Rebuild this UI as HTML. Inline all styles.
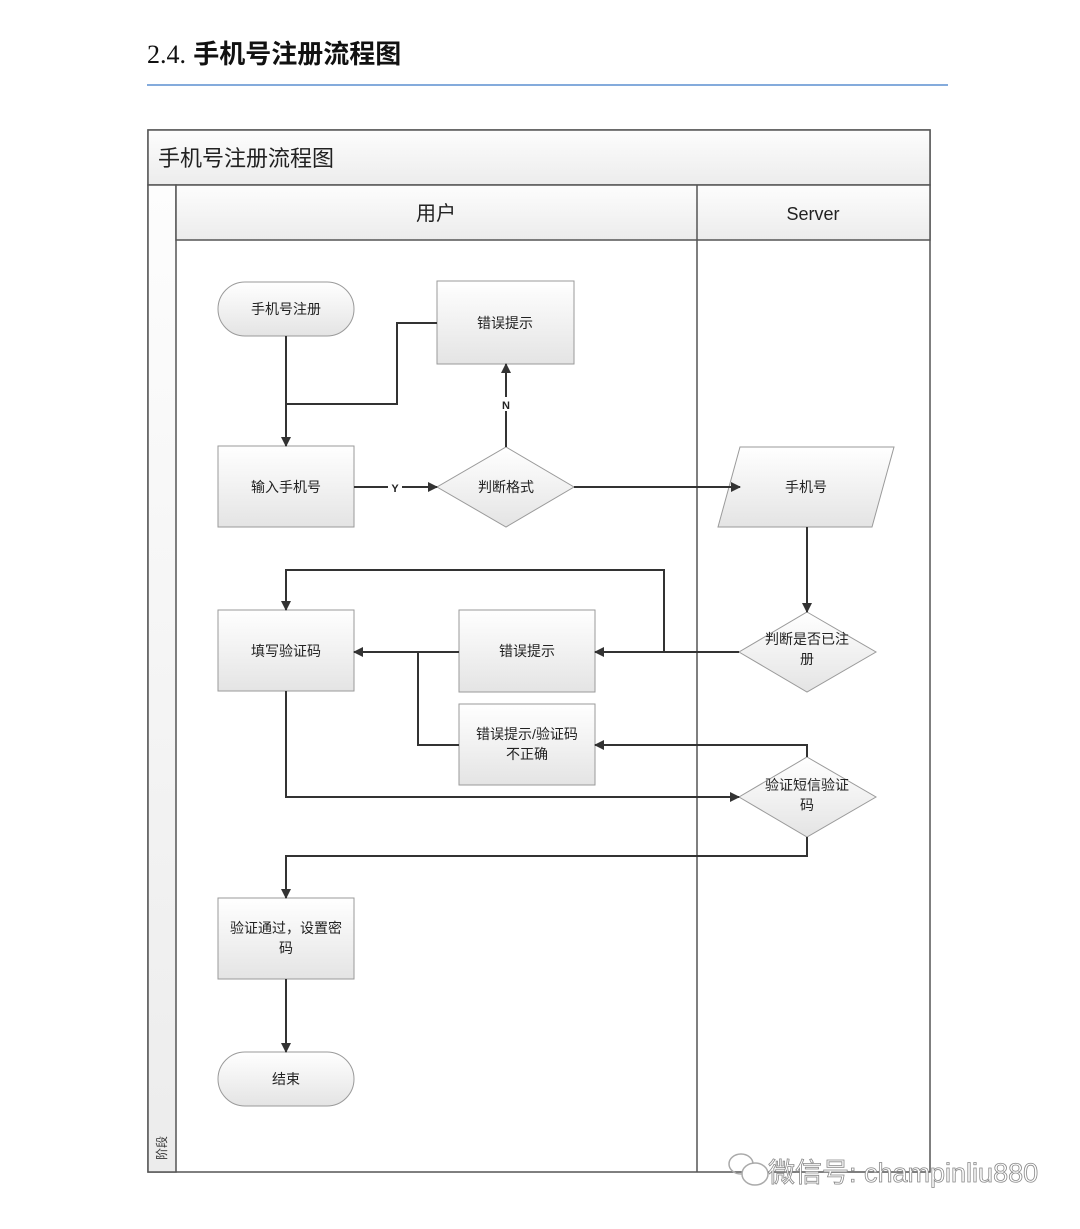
<!DOCTYPE html>
<html><head><meta charset="utf-8"><style>
body{margin:0;background:#fff;}
text{font-family:"Liberation Sans","Noto Sans CJK SC",sans-serif;}
</style></head><body>
<svg width="1080" height="1224" viewBox="0 0 1080 1224" xmlns="http://www.w3.org/2000/svg">
<defs>
<linearGradient id="g" x1="0" y1="0" x2="0" y2="1"><stop offset="0" stop-color="#ffffff"/><stop offset="1" stop-color="#e4e4e4"/></linearGradient>
<linearGradient id="h" x1="0" y1="0" x2="0" y2="1"><stop offset="0" stop-color="#fdfdfd"/><stop offset="1" stop-color="#ececec"/></linearGradient>
<marker id="a" markerWidth="10" markerHeight="10" refX="9" refY="5" orient="auto" markerUnits="userSpaceOnUse"><path d="M0,0 L10,5 L0,10 z" fill="#333"/></marker>
</defs>
<text x="147" y="63" font-size="26" font-weight="bold" fill="#111"><tspan font-family="Liberation Serif" font-weight="normal">2.4.</tspan>  手机号注册流程图</text>
<line x1="147" y1="85" x2="948" y2="85" stroke="#5b8fd0" stroke-width="1.5"/>
<rect x="148" y="130" width="782" height="1042" fill="#fff" stroke="#555" stroke-width="1.5"/>
<rect x="148" y="130" width="782" height="55" fill="url(#h)" stroke="#555" stroke-width="1.5"/>
<rect x="148" y="185" width="28" height="987" fill="url(#h)" stroke="#555" stroke-width="1.5"/>
<rect x="176" y="185" width="754" height="55" fill="url(#h)" stroke="#555" stroke-width="1.5"/>
<line x1="697" y1="185" x2="697" y2="1172" stroke="#555" stroke-width="1.5"/>
<text x="158" y="166" font-size="22" fill="#222">手机号注册流程图</text>
<text x="436" y="220" font-size="20" fill="#222" text-anchor="middle">用户</text>
<text x="813" y="220" font-size="18" fill="#222" text-anchor="middle">Server</text>
<text x="166" y="1160" font-size="12" fill="#333" transform="rotate(-90 166 1160)">阶段</text>
<g stroke="#9a9a9a" stroke-width="1" fill="url(#g)">
<rect x="218" y="282" width="136" height="54" rx="27"/>
<rect x="437" y="281" width="137" height="83"/>
<rect x="218" y="446" width="136" height="81"/>
<polygon points="506,447 574,487 506,527 437,487"/>
<polygon points="740,447 894,447 872,527 718,527"/>
<rect x="218" y="610" width="136" height="81"/>
<rect x="459" y="610" width="136" height="82"/>
<polygon points="807,612 876,652 807,692 739,652"/>
<rect x="459" y="704" width="136" height="81"/>
<polygon points="807,757 876,797 807,837 739,797"/>
<rect x="218" y="898" width="136" height="81"/>
<rect x="218" y="1052" width="136" height="54" rx="27"/>
</g>
<g font-size="14" fill="#222" text-anchor="middle">
<text x="286" y="314">手机号注册</text>
<text x="505" y="328">错误提示</text>
<text x="286" y="492">输入手机号</text>
<text x="506" y="492">判断格式</text>
<text x="806" y="492">手机号</text>
<text x="286" y="656">填写验证码</text>
<text x="527" y="656">错误提示</text>
<text x="807" y="644">判断是否已注</text>
<text x="807" y="664">册</text>
<text x="527" y="739">错误提示/验证码</text>
<text x="527" y="759">不正确</text>
<text x="807" y="790">验证短信验证</text>
<text x="807" y="810">码</text>
<text x="286" y="933">验证通过，设置密</text>
<text x="286" y="953">码</text>
<text x="286" y="1084">结束</text>
</g>
<g stroke="#333" stroke-width="2" fill="none">
<path d="M286,336 V446" marker-end="url(#a)"/>
<path d="M437,323 H397 V404 H286"/>
<path d="M354,487 H437" marker-end="url(#a)"/>
<path d="M506,447 V364" marker-end="url(#a)"/>
<path d="M574,487 H740" marker-end="url(#a)"/>
<path d="M807,527 V612" marker-end="url(#a)"/>
<path d="M739,652 H595" marker-end="url(#a)"/>
<path d="M664,652 V570 H286 V610" marker-end="url(#a)"/>
<path d="M459,652 H354" marker-end="url(#a)"/>
<path d="M418,652 V745 H459"/>
<path d="M807,757 V745 H595" marker-end="url(#a)"/>
<path d="M286,691 V797 H739" marker-end="url(#a)"/>
<path d="M807,837 V856 H286 V898" marker-end="url(#a)"/>
<path d="M286,979 V1052" marker-end="url(#a)"/>
</g>
<rect x="388" y="480" width="14" height="14" fill="#fff"/>
<text x="395" y="492" font-size="11" font-weight="bold" fill="#222" text-anchor="middle">Y</text>
<rect x="499" y="397" width="14" height="14" fill="#fff"/>
<text x="506" y="409" font-size="11" font-weight="bold" fill="#222" text-anchor="middle">N</text>
<g fill="none" stroke="#aaa" stroke-width="1.5">
<ellipse cx="741" cy="1164" rx="12" ry="10"/>
<ellipse cx="755" cy="1174" rx="13" ry="11" fill="#fff"/>
</g>
<text x="768" y="1182" font-size="27" fill="#fff" stroke="#888" stroke-width="0.8">微信号: champinliu880</text>
</svg>
</body></html>
